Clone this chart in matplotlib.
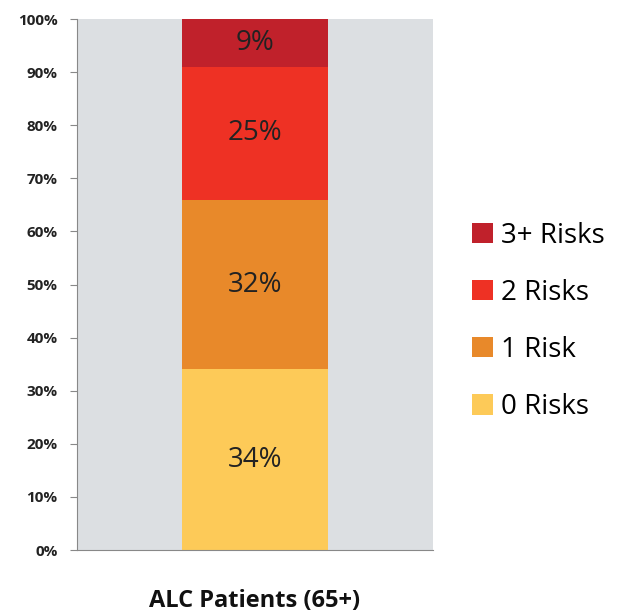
import numpy as np
import matplotlib.pyplot as plt
from matplotlib.ticker import PercentFormatter

# Risk composition of the ALC patient group (percent)
group = ['ALC Patients (65+)']
risk_labels = ['0 Risks', '1 Risk', '2 Risks', '3+ Risks']
risk_values = [34, 32, 25, 9]
risk_colors = ['#fdca58', '#e8892a', '#ee3124', '#c0212b']

plt.rcParams['font.family'] = ['Open Sans', 'DejaVu Sans']

fig = plt.figure(figsize=(6.25, 6.12), dpi=100)
ax = fig.add_axes([0.1232, 0.1013, 0.5696, 0.8676])
ax.set_facecolor('#dcdfe2')

x = np.arange(len(group))
bottom = np.zeros(len(group))
for lab, val, col in zip(risk_labels, risk_values, risk_colors):
    b = ax.bar(x, [val], width=0.41, bottom=bottom, color=col, label=lab)
    ax.bar_label(b, labels=[f'{val}%'], label_type='center', fontsize=20,
                 color='#222222')
    bottom += val

ax.set_xlim(-0.5, 0.5)
ax.set_ylim(0, 100)
ax.set_yticks(np.arange(0, 101, 10))
ax.yaxis.set_major_formatter(PercentFormatter(decimals=0))
ax.tick_params(axis='y', labelsize=11, length=5, color='#888888', pad=9)
for t in ax.get_yticklabels():
    t.set_fontweight('bold')
    t.set_color('#222222')
ax.set_xticks(x)
ax.set_xticklabels(group, fontsize=17, fontweight='bold', color='#111111')
ax.tick_params(axis='x', length=0, pad=28)

for s in ['top', 'right']:
    ax.spines[s].set_visible(False)
for s in ['left', 'bottom']:
    ax.spines[s].set_color('#888888')

handles, labels = ax.get_legend_handles_labels()
fig.legend(handles[::-1], labels[::-1], loc='center left',
           bbox_to_anchor=(0.715, 0.475), frameon=False, fontsize=20,
           handlelength=0.75, handleheight=0.75, handletextpad=0.3,
           labelspacing=1.05)

fig.savefig('out.png', dpi=100)
